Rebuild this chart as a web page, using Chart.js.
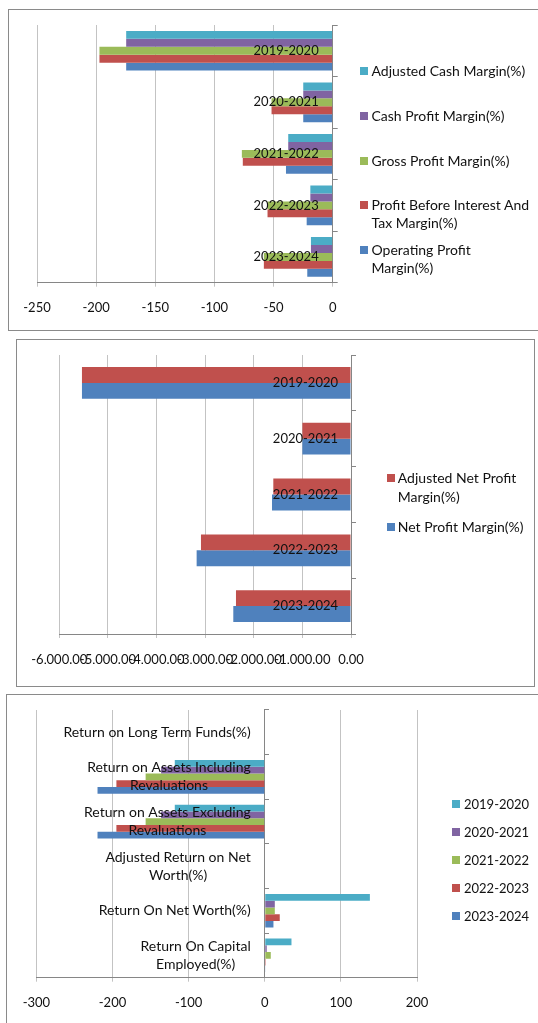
<!DOCTYPE html>
<html>
<head>
<meta charset="utf-8">
<script src="https://cdn.jsdelivr.net/npm/chart.js@4.4.1/dist/chart.umd.min.js"></script>
<style>
  html, body { margin: 0; padding: 0; background: #fff; }
  body { position: relative; width: 538px; height: 1023px; overflow: hidden; font-family: Lato, sans-serif; }
  .frame { position: absolute; border: 1px solid #8a8a8a; box-sizing: border-box; }
  canvas { position: absolute; }
  .swatch { position: absolute; width: 8px; height: 8px; }
  .ltext { position: absolute; white-space: nowrap; font-family: Lato, sans-serif; color: #111; }
</style>
</head>
<body>
<div class="frame" style="left:8px;top:9px;width:540px;height:322px"></div>
<div class="frame" style="left:16px;top:339px;width:519px;height:348px"></div>
<div class="frame" style="left:6px;top:694px;width:540px;height:340px"></div>

<canvas id="marginChart" width="529" height="319" style="left:9px;top:10px"></canvas>
<canvas id="netMarginChart" width="517" height="346" style="left:17px;top:340px"></canvas>
<canvas id="returnChart" width="531" height="328" style="left:7px;top:695px"></canvas>
<div id="legends"></div>

<script>
// ---- Profitability margins (%) ----
const marginYears = ['2019-2020', '2020-2021', '2021-2022', '2022-2023', '2023-2024'];
const adjustedCashMargin = [-174.6, -24.9, -37.6, -18.9, -18.4];
const cashProfitMargin = [-174.6, -24.9, -37.6, -18.9, -18.4];
const grossProfitMargin = [-197.2, -51.7, -76.8, -55.1, -58.2];
const pbitMargin = [-197.2, -51.7, -76.0, -55.1, -58.2];
const operatingProfitMargin = [-174.6, -24.9, -39.5, -22.0, -21.5];
const marginTicks = { min: -250, max: 0, step: 50 };

// ---- Net profit margins (%) ----
const netYears = ['2019-2020', '2020-2021', '2021-2022', '2022-2023', '2023-2024'];
const adjustedNetProfitMargin = [-5534, -1000, -1598, -3086, -2366];
const netProfitMargin = [-5534, -1000, -1625, -3175, -2421];
const netTicks = { min: -6000, max: 0, step: 1000 };

// ---- Return ratios (%) ----
const returnMeasures = [
  'Return on Long Term Funds(%)',
  ['Return on Assets Including', 'Revaluations'],
  ['Return on Assets Excluding', 'Revaluations'],
  ['Adjusted Return on Net', 'Worth(%)'],
  'Return On Net Worth(%)',
  ['Return On Capital', 'Employed(%)']
];
const return2019_20 = [0, -118.2, -118.2, 0, 138.1, 35.1];
const return2020_21 = [0, -136.2, -136.2, 0, 13.2, 2.6];
const return2021_22 = [0, -156.5, -156.5, 0, 13.2, 7.9];
const return2022_23 = [0, -194.9, -194.9, 0, 19.7, 1.2];
const return2023_24 = [0, -219.7, -219.7, 0, 11.4, 0.8];
const returnTicks = { min: -300, max: 200, step: 100 };

// Office palette
const C = { cyan: '#4BACC6', purple: '#8064A2', green: '#9BBB59', red: '#C0504D', blue: '#4F81BD' };
const TICK_FONT = { family: 'Lato', size: 13 };
const GRID = '#c3c3c3';
const AXIS = '#868686';
const TEXT = '#111';

// Category names drawn just left of the zero line, each block right-aligned with centred lines
const categoryLabels = {
  id: 'categoryLabels',
  afterDatasetsDraw(chart, args, opts) {
    const { ctx } = chart;
    const x = chart.scales.x, y = chart.scales.y;
    const right = x.getPixelForValue(0) - opts.gap;
    ctx.save();
    ctx.font = opts.size + 'px Lato';
    ctx.fillStyle = TEXT;
    ctx.textAlign = 'center';
    ctx.textBaseline = 'middle';
    chart.data.labels.forEach((label, i) => {
      const lines = [].concat(label);
      const w = Math.max(...lines.map(l => ctx.measureText(l).width));
      const cx = right - w / 2;
      const cy = y.getPixelForValue(i);
      lines.forEach((line, j) => {
        ctx.fillText(line, cx, cy + (j - (lines.length - 1) / 2) * opts.lineHeight);
      });
    });
    ctx.restore();
  }
};

function buildChart(id, labels, datasets, ticks, cfg) {
  return new Chart(document.getElementById(id), {
    type: 'bar',
    data: {
      labels,
      datasets: datasets.map(d => ({
        label: d.label,
        data: d.data,
        backgroundColor: d.color,
        borderWidth: 0,
        categoryPercentage: cfg.categoryPercentage,
        barPercentage: 1
      }))
    },
    options: {
      indexAxis: 'y',
      responsive: false,
      animation: false,
      devicePixelRatio: 1,
      layout: { padding: cfg.padding },
      plugins: {
        legend: { display: false },
        tooltip: { enabled: false },
        categoryLabels: { gap: cfg.labelGap, lineHeight: 18, size: cfg.labelSize }
      },
      scales: {
        x: {
          type: 'linear',
          min: ticks.min,
          max: ticks.max,
          afterFit: s => { s.height = 30; },
          ticks: {
            stepSize: ticks.step,
            autoSkip: false,
            maxRotation: 0,
            minRotation: 0,
            padding: cfg.tickPadding,
            color: TEXT,
            font: TICK_FONT,
            callback: cfg.format || (v => String(v))
          },
          grid: { color: GRID, tickLength: 4, tickColor: GRID },
          border: { color: AXIS }
        },
        y: {
          type: 'category',
          position: cfg.yPosition,
          offset: true,
          afterFit: s => { s.width = 8; },
          ticks: { display: false },
          grid: { offset: true, drawOnChartArea: false, tickLength: cfg.yTickLength, color: AXIS },
          border: { color: AXIS }
        }
      }
    },
    plugins: [categoryLabels]
  });
}

const marginSeries = [
  { label: 'Adjusted Cash Margin(%)', data: adjustedCashMargin, color: C.cyan },
  { label: 'Cash Profit Margin(%)', data: cashProfitMargin, color: C.purple },
  { label: 'Gross Profit Margin(%)', data: grossProfitMargin, color: C.green },
  { label: 'Profit Before Interest And\nTax Margin(%)', data: pbitMargin, color: C.red },
  { label: 'Operating Profit\nMargin(%)', data: operatingProfitMargin, color: C.blue }
];
const netSeries = [
  { label: 'Adjusted Net Profit\nMargin(%)', data: adjustedNetProfitMargin, color: C.red },
  { label: 'Net Profit Margin(%)', data: netProfitMargin, color: C.blue }
];
const returnSeries = [
  { label: '2019-2020', data: return2019_20, color: C.cyan },
  { label: '2020-2021', data: return2020_21, color: C.purple },
  { label: '2021-2022', data: return2021_22, color: C.green },
  { label: '2022-2023', data: return2022_23, color: C.red },
  { label: '2023-2024', data: return2023_24, color: C.blue }
];

buildChart('marginChart', marginYears, marginSeries, marginTicks, {
  categoryPercentage: 0.77,
  padding: { left: 28, top: 15, right: 197.3, bottom: 16.3 },
  yPosition: 'right', yTickLength: 5, labelGap: 14, labelSize: 13, tickPadding: 13
});

buildChart('netMarginChart', netYears, netSeries, netTicks, {
  categoryPercentage: 0.57,
  padding: { left: 42.3, top: 15, right: 175, bottom: 22 },
  yPosition: 'right', yTickLength: 5, labelGap: 13, labelSize: 13, tickPadding: 14,
  format: v => v.toLocaleString('en-US', { minimumFractionDigits: 2, maximumFractionDigits: 2 })
});

buildChart('returnChart', returnMeasures, returnSeries, returnTicks, {
  categoryPercentage: 0.755,
  padding: { left: 29.4, top: 15, right: 121, bottom: 15.3 },
  yPosition: { x: 0 }, yTickLength: -5, labelGap: 14, labelSize: 14, tickPadding: 13
});

// Legends: one entry per series, swatch beside the first text line
function buildLegend(series, o) {
  const host = document.getElementById('legends');
  series.forEach((s, i) => {
    const lines = s.label.split('\n');
    const cy = o.top + i * o.pitch;
    const sw = document.createElement('div');
    sw.className = 'swatch';
    sw.style.left = o.swatchX + 'px';
    sw.style.top = (cy - 4) + 'px';
    sw.style.background = s.color;
    host.appendChild(sw);
    lines.forEach((line, j) => {
      const t = document.createElement('div');
      t.className = 'ltext';
      t.style.fontSize = o.size + 'px';
      t.style.left = o.textX + 'px';
      t.style.top = (cy + j * o.lineHeight - o.lineHeight / 2) + 'px';
      t.style.lineHeight = o.lineHeight + 'px';
      t.textContent = line;
      host.appendChild(t);
    });
  });
}

buildLegend(marginSeries, { swatchX: 360, textX: 371.5, top: 71, pitch: 44.75, lineHeight: 17.7, size: 14 });
buildLegend(netSeries, { swatchX: 386.8, textX: 397.8, top: 477.7, pitch: 49, lineHeight: 19, size: 14 });
buildLegend(returnSeries, { swatchX: 452, textX: 464, top: 804.3, pitch: 27.85, lineHeight: 18, size: 13 });
</script>
</body>
</html>
